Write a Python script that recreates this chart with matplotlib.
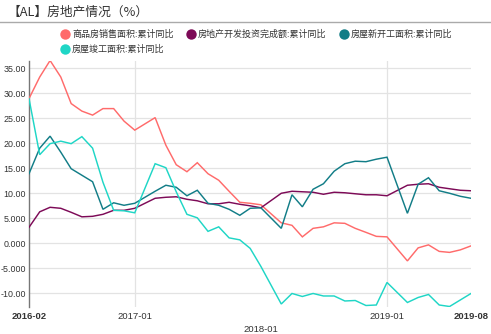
import matplotlib
matplotlib.use("Agg")
import matplotlib.pyplot as plt
import matplotlib.dates as mdates
from matplotlib.ticker import FuncFormatter
from matplotlib.lines import Line2D
import pandas as pd

plt.rcParams['font.family'] = ['Noto Sans CJK SC', 'DejaVu Sans']

# Monthly cumulative YoY (%); January is reported together with February
months = (
    ["2016-%02d" % m for m in range(2, 13)]
    + ["2017-%02d" % m for m in range(2, 13)]
    + ["2018-%02d" % m for m in range(2, 13)]
    + ["2019-%02d" % m for m in range(2, 9)]
)

sales_area = [28.9, 33.2, 36.5, 33.2, 27.9, 26.4, 25.6, 26.9, 26.9, 24.4, 22.6,
              25.1, 19.6, 15.7, 14.3, 16.1, 13.9, 12.6, 10.4, 8.2, 8.0, 7.7,
              4.1, 3.6, 1.3, 3.0, 3.3, 4.1, 4.0, 3.0, 2.2, 1.4, 1.3,
              -3.5, -0.9, -0.3, -1.6, -1.8, -1.3, -0.5]
investment = [3.2, 6.3, 7.2, 7.0, 6.2, 5.3, 5.4, 5.8, 6.6, 6.6, 7.0,
              9.0, 9.2, 9.3, 8.8, 8.5, 7.9, 7.9, 8.2, 7.8, 7.5, 7.1,
              10.0, 10.4, 10.3, 10.2, 9.8, 10.2, 10.1, 9.9, 9.7, 9.7, 9.5,
              11.6, 11.8, 11.9, 11.2, 10.9, 10.6, 10.5]
new_starts = [13.9, 19.0, 21.4, 18.2, 14.9, 13.6, 12.3, 6.8, 8.1, 7.6, 8.0,
              10.4, 11.6, 11.2, 9.5, 10.6, 8.0, 7.6, 6.8, 5.6, 7.0, 7.1,
              3.0, 9.7, 7.3, 10.8, 11.9, 14.4, 15.9, 16.4, 16.3, 16.8, 17.2,
              6.0, 11.8, 13.1, 10.5, 10.0, 9.4, 9.0]
completions = [28.9, 17.7, 19.9, 20.4, 19.9, 21.3, 19.0, 12.2, 6.6, 6.5, 6.1,
               15.9, 15.1, 10.3, 5.8, 5.1, 2.4, 3.3, 1.1, 0.7, -1.0, -4.6,
               -12.1, -10.0, -10.6, -10.0, -10.5, -10.5, -11.5, -11.4, -12.4, -12.3, -7.8,
               -11.8, -10.8, -10.2, -12.3, -12.6, -11.3, -10.0]

series_names = ["商品房销售面积:累计同比", "房地产开发投资完成额:累计同比",
                "房屋新开工面积:累计同比", "房屋竣工面积:累计同比"]
series_colors = ["#ff6b6b", "#7d0a57", "#127d87", "#1fd6c6"]
series_values = [sales_area, investment, new_starts, completions]

tick_labels = ["2016-02", "2017-01", "2018-01", "2019-01", "2019-08"]

dates = pd.to_datetime(months) + pd.offsets.MonthEnd(0)

W, H = 491, 334
fig = plt.figure(figsize=(W / 100, H / 100), dpi=100)
ax = fig.add_axes([29 / W, 1 - 306.5 / H, (471 - 29) / W, (306.5 - 60.5) / H])

for vals, col in zip(series_values, series_colors):
    ax.plot(dates, vals, color=col, lw=1.05, solid_joinstyle='miter', zorder=3)

all_vals = [v for s in series_values for v in s]
ax.set_ylim(min(all_vals), max(all_vals))
ax.set_xlim(dates[0], dates[-1])

ax.set_yticks([35, 30, 25, 20, 15, 10, 5, 0, -5, -10])


def four_sig(v, pos):
    return "%.3f" % v if abs(v) < 10 else "%.2f" % v

ax.yaxis.set_major_formatter(FuncFormatter(four_sig))
ax.tick_params(axis='y', length=0, pad=2, labelsize=6.4, labelcolor='#333333')
for lab in ax.get_yticklabels():
    lab.set_fontfamily('Liberation Sans')
ax.grid(axis='y', color='#e3e3e3', lw=0.9, zorder=0)

# x ticks: end points at the data range, interior ones at year starts
tick_dates = [dates[0], pd.Timestamp("2017-01-01"), pd.Timestamp("2018-01-01"),
              pd.Timestamp("2019-01-01"), dates[-1]]
ax.set_xticks([mdates.date2num(d) for d in tick_dates])
ax.set_xticklabels(tick_labels)
ax.tick_params(axis='x', length=0, pad=4, labelsize=6.8, labelcolor='#333333')
for i, lab in enumerate(ax.get_xticklabels()):
    lab.set_fontfamily('Liberation Sans')
    if i in (0, len(tick_labels) - 1):
        lab.set_fontweight('bold')
ax.xaxis.get_major_ticks()[2].set_pad(13)

for d in (pd.Timestamp("2017-01-01"), pd.Timestamp("2019-01-01")):
    ax.axvline(d, color='#e3e3e3', lw=0.9, zorder=0)

for side in ('top', 'right', 'bottom'):
    ax.spines[side].set_visible(False)
ax.spines['left'].set_color('#777777')
ax.spines['left'].set_linewidth(1.0)

# title and separator
fig.text(8 / W, 1 - 12.5 / H, "【AL】房地产情况（%）", fontsize=9.2, color='#333333',
         va='center', ha='left')
fig.add_artist(Line2D([0, 1], [1 - 22 / H, 1 - 22 / H], color='#aaaaaa', lw=1.0,
                      transform=fig.transFigure))

# legend
legend_pos = [(65, 34), (191, 34), (344, 34), (65, 49)]
for (lx, ly), name, col in zip(legend_pos, series_names, series_colors):
    fig.add_artist(Line2D([lx / W], [1 - ly / H], marker='o', markersize=7.5,
                          color=col, markeredgewidth=0, transform=fig.transFigure))
    fig.text((lx + 7) / W, 1 - ly / H, name, fontsize=6.5, color='#333333',
             va='center', ha='left')

fig.savefig("out.png", dpi=100)
